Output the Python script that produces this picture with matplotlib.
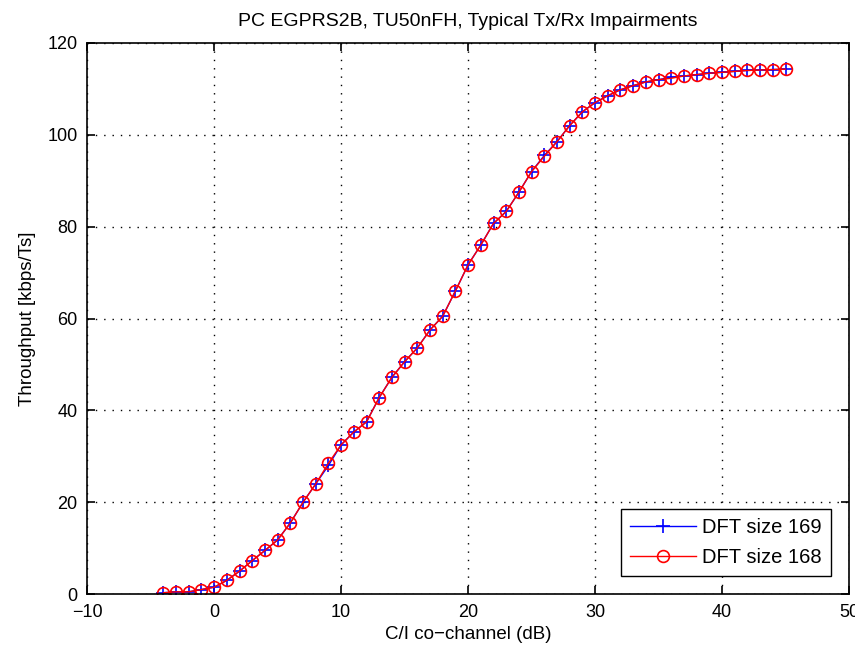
import numpy as np
import matplotlib.pyplot as plt

# C/I co-channel (dB)
ci_db = list(range(-4, 46))

# throughput [kbps/Ts], DFT size 169
thr_169 = [0.3, 0.5, 0.5, 1.0, 1.5, 3.0, 5.0, 7.3, 9.5, 11.8,
           15.5, 20.0, 24.0, 28.0, 32.5, 35.3, 37.5, 42.8, 47.2, 50.6,
           53.6, 57.5, 60.5, 66.0, 71.7, 76.0, 80.7, 83.3, 87.5, 92.0,
           95.5, 98.5, 102.0, 105.0, 107.0, 108.5, 109.8, 110.7, 111.5, 112.0,
           112.5, 112.8, 113.1, 113.4, 113.6, 113.8, 114.0, 114.1, 114.2, 114.3]

# throughput [kbps/Ts], DFT size 168
thr_168 = [0.3, 0.5, 0.5, 1.0, 1.5, 3.0, 5.0, 7.3, 9.5, 11.8,
           15.5, 20.0, 24.0, 28.5, 32.5, 35.3, 37.5, 42.8, 47.2, 50.6,
           53.6, 57.5, 60.5, 66.0, 71.7, 76.0, 80.7, 83.3, 87.5, 92.0,
           95.3, 98.5, 102.0, 105.0, 107.0, 108.5, 109.8, 110.7, 111.5, 112.0,
           112.3, 112.8, 113.1, 113.4, 113.6, 113.8, 114.0, 114.1, 114.2, 114.3]

plt.rcParams['font.family'] = ['Liberation Sans', 'DejaVu Sans']

fig = plt.figure(figsize=(8.55, 6.5), dpi=100)
# axes box: x 87..849 px, y 43..594 px
ax = fig.add_axes([0.102, 0.086, 0.891, 0.848])

ax.plot(ci_db, thr_169, color="blue", marker="+", markersize=10, linewidth=1,
        markeredgewidth=1.2, label="DFT size 169")
ax.plot(ci_db, thr_168, color="red", marker="o", markersize=8.5, linewidth=1,
        markeredgewidth=1.2, markerfacecolor="none", label="DFT size 168")

ax.set_xlim(-10, 50)
ax.set_ylim(0, 120)
ax.set_xticks(np.arange(-10, 51, 10))
ax.set_yticks(np.arange(0, 121, 20))
ax.grid(True, color="black", linestyle=(0, (1, 5)), linewidth=1.0)
ax.tick_params(direction="in", top=True, right=True, labelsize=13, length=6,
               width=1.2, pad=7)
for s in ax.spines.values():
    s.set_linewidth(1.2)

ax.set_xlabel("C/I co\u2212channel (dB)", fontsize=13.5, labelpad=4)
ax.set_ylabel("Throughput [kbps/Ts]", fontsize=13.5, labelpad=8)
ax.set_title("PC EGPRS2B, TU50nFH, Typical Tx/Rx Impairments", fontsize=14, pad=12)

leg = ax.legend(loc="lower right", fontsize=14.5, fancybox=False, framealpha=1,
                edgecolor="black", borderaxespad=0.9, handlelength=3.3,
                handletextpad=0.3, borderpad=0.45, labelspacing=0.55)
leg.get_frame().set_linewidth(1.0)

fig.savefig("out.png", dpi=100)
